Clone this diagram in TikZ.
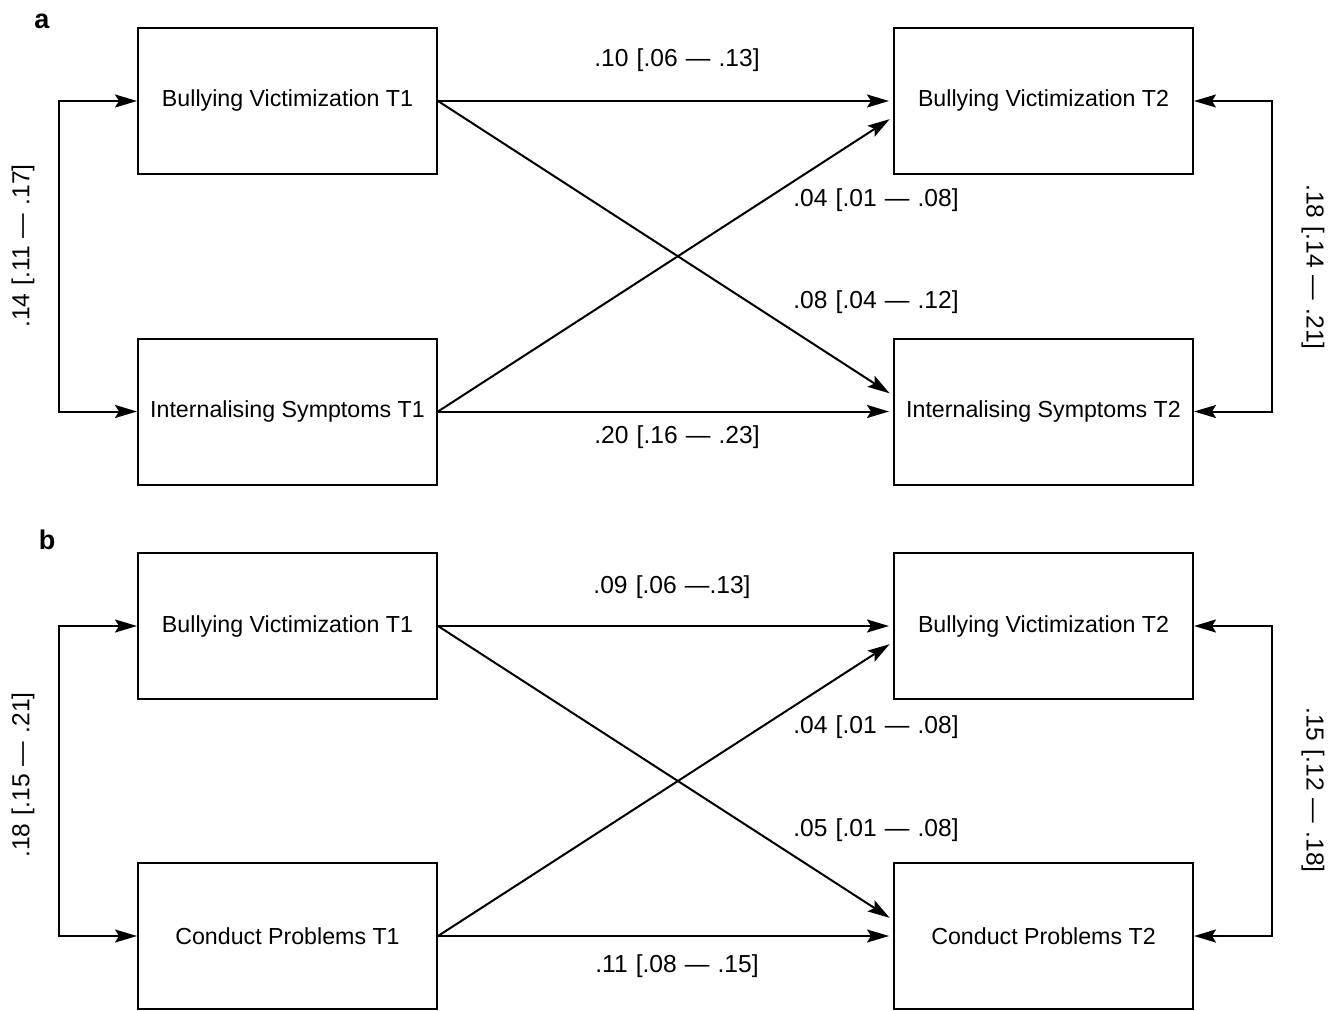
\documentclass[tikz,border=0pt]{standalone}
\usepackage{fontspec}
\setmainfont{Liberation Sans}
\usetikzlibrary{positioning,arrows.meta,calc}
\newcommand{\coeffont}{\fontsize{12.3}{14}\selectfont\setlength{\spaceskip}{0.33em}}

\begin{document}
\begin{tikzpicture}[x=0.5pt,y=-0.5pt,>={Stealth[length=11pt,width=6.5pt,inset=2pt]},
    var/.style={draw,line width=1pt,minimum width=149.5pt,minimum height=73pt,inner sep=0pt,font=\fontsize{11.6}{14}\selectfont},
    coef/.style={inner sep=0pt,font=\coeffont},
    panel/.style={inner sep=0pt,font=\fontsize{13.5}{16}\selectfont\bfseries},
    path/.style={->,line width=1pt,shorten >=2pt}]
    \useasboundingbox (0,0) rectangle (1338,1011);
    % panel a
    \node[panel] (pa) at (42,21) {a};
    \node[var] (bv1) at (287.5,101) {Bullying Victimization T1};
    \node[var] (is1) at (287.5,411.5) {Internalising Symptoms T1};
    \node[var] (bv2) at (1043.5,101) {Bullying Victimization T2};
    \node[var] (is2) at (1043.5,411.5) {Internalising Symptoms T2};
    \draw[path] (bv1.east)--(bv2.west);
    \draw[path] (is1.east)--(is2.west);
    \draw[path] (bv1.east)--([yshift=8pt]is2.west);
    \draw[path] (is1.east)--([yshift=-8pt]bv2.west);
    \draw[<->,line width=1pt] (bv1.west)--++(-78,0)|-(is1.west);
    \draw[<->,line width=1pt] (bv2.east)--++(78,0)|-(is2.east);
    \node[coef] (ca1) at (677,60) {.10 [.06 — .13]};
    \node[coef] (ca2) at (876,200) {.04 [.01 — .08]};
    \node[coef] (ca3) at (876,302) {.08 [.04 — .12]};
    \node[coef] (ca4) at (677,437) {.20 [.16 — .23]};
    \node[coef,rotate=90] (ca5) at (23,246) {.14 [.11 — .17]};
    \node[coef,rotate=-90] (ca6) at (1313,267) {.18 [.14 — .21]};
    % panel b
    \node[panel] (pb) at (47,540) {b};
    \node[var] (bvb1) at (287.5,626) {Bullying Victimization T1};
    \node[var] (cp1) at (287.5,936) {Conduct Problems T1};
    \node[var] (bvb2) at (1043.5,626) {Bullying Victimization T2};
    \node[var] (cp2) at (1043.5,936) {Conduct Problems T2};
    \draw[path] (bvb1.east)--(bvb2.west);
    \draw[path] (cp1.east)--(cp2.west);
    \draw[path] (bvb1.east)--([yshift=8pt]cp2.west);
    \draw[path] (cp1.east)--([yshift=-8pt]bvb2.west);
    \draw[<->,line width=1pt] (bvb1.west)--++(-78,0)|-(cp1.west);
    \draw[<->,line width=1pt] (bvb2.east)--++(78,0)|-(cp2.east);
    \node[coef] (cb1) at (672,587) {.09 [.06 —.13]};
    \node[coef] (cb2) at (876,727) {.04 [.01 — .08]};
    \node[coef] (cb3) at (876,830) {.05 [.01 — .08]};
    \node[coef] (cb4) at (677,966) {.11 [.08 — .15]};
    \node[coef,rotate=90] (cb5) at (23,775) {.18 [.15 — .21]};
    \node[coef,rotate=-90] (cb6) at (1313,790) {.15 [.12 — .18]};
  \end{tikzpicture}
\end{document}
